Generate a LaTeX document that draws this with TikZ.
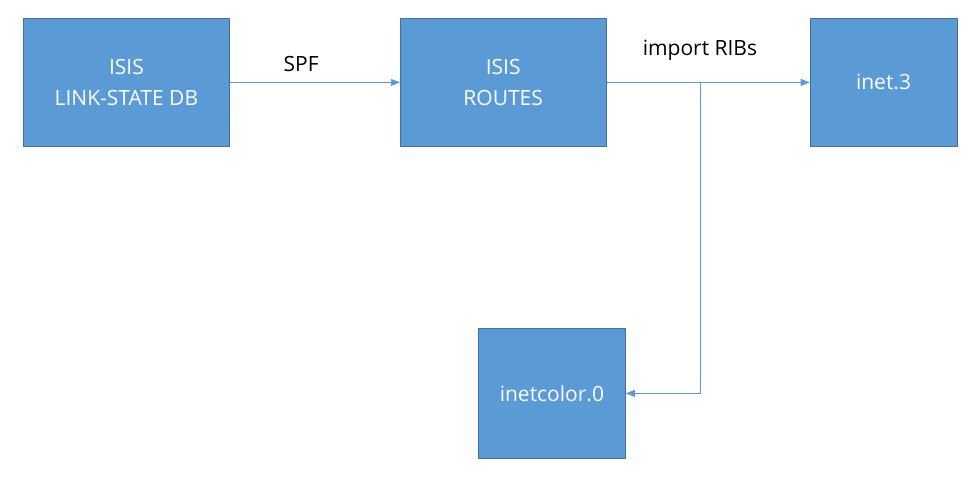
\documentclass[tikz,border=0pt]{standalone}
\usepackage{fontspec}
\setmainfont{Open Sans}
\usetikzlibrary{positioning,calc,arrows.meta}
\definecolor{blkfill}{HTML}{5B9BD5}
\definecolor{blkline}{HTML}{41719C}
\definecolor{linkc}{HTML}{5B9BD5}

\begin{document}
\begin{tikzpicture}[
    x=1pt, y=-1pt,
    every node/.style={inner sep=0},
    blk/.style={draw=blkline, fill=blkfill, text=white, minimum height=128pt,
        align=center, font=\fontsize{21}{31}\selectfont, line width=0.8pt},
    wide/.style={blk, minimum width=206pt},
    narrow/.style={blk, minimum width=147pt},
    link/.style={draw=linkc, line width=0.9pt, -{Triangle[length=9pt,width=7pt]}},
    lbl/.style={font=\fontsize{21}{24}\selectfont}
]
\useasboundingbox (0,0) rectangle (974,489);
\node[wide, anchor=north west] (lsdb) at (23,18) {ISIS\\LINK-STATE DB} ;
\node[wide, right=170pt of lsdb] (routes) {ISIS\\ROUTES} ;
\node[narrow, right=203pt of routes] (inet3) {inet.3} ;
\node[narrow, minimum height=130pt, anchor=north west] (color) at (478,328) {inetcolor.0} ;
\coordinate (split) at ($(routes.east)+(94,0)$) ;
\draw[link] (lsdb) -- node[lbl, pos=0.42, above=10pt] {SPF} (routes) ;
\draw[link] (routes) -- node[lbl, pos=0.46, above=21pt] {import RIBs} (inet3) ;
\draw[link] (split) |- (color.east) ;
\end{tikzpicture}
\end{document}
